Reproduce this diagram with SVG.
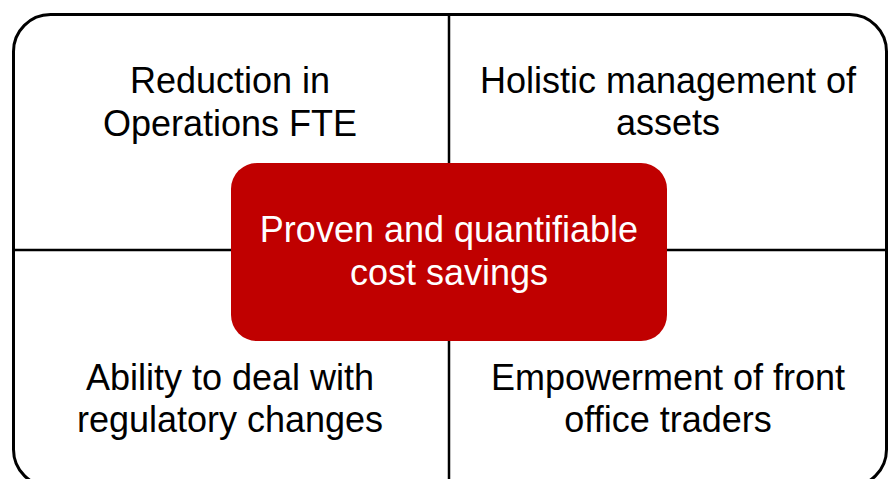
<svg xmlns="http://www.w3.org/2000/svg" width="896" height="479" viewBox="0 0 896 479">
<style>
.t{font-family:"Liberation Sans",Arial,sans-serif;font-size:36px;fill:#000;text-anchor:middle}
.w{fill:#fff}
.ln{stroke:#000;stroke-width:2.5;fill:none}
</style>
<rect x="0" y="0" width="896" height="479" fill="#fff"/>
<g id="frame">
<rect x="13.5" y="14.5" width="873" height="472" rx="37" ry="37" fill="#fff" stroke="#000" stroke-width="3"/>
</g>
<g id="connectors">
<line class="ln" x1="449" y1="14" x2="449" y2="479" stroke-width="3"/>
<line class="ln" x1="13" y1="250" x2="887" y2="250"/>
</g>
<g id="top-left">
<text class="t" x="230" y="93">Reduction in</text>
<text class="t" x="230" y="136">Operations FTE</text>
</g>
<g id="top-right">
<text class="t" x="668" y="93">Holistic management of</text>
<text class="t" x="668" y="135">assets</text>
</g>
<g id="bottom-left">
<text class="t" x="230" y="390">Ability to deal with</text>
<text class="t" x="230" y="432">regulatory changes</text>
</g>
<g id="bottom-right">
<text class="t" x="668" y="390">Empowerment of front</text>
<text class="t" x="668" y="432">office traders</text>
</g>
<g id="center">
<rect x="231" y="163" width="436" height="178" rx="26" ry="26" fill="#C00000"/>
<text class="t w" x="449" y="242">Proven and quantifiable</text>
<text class="t w" x="449" y="285">cost savings</text>
</g>
</svg>
